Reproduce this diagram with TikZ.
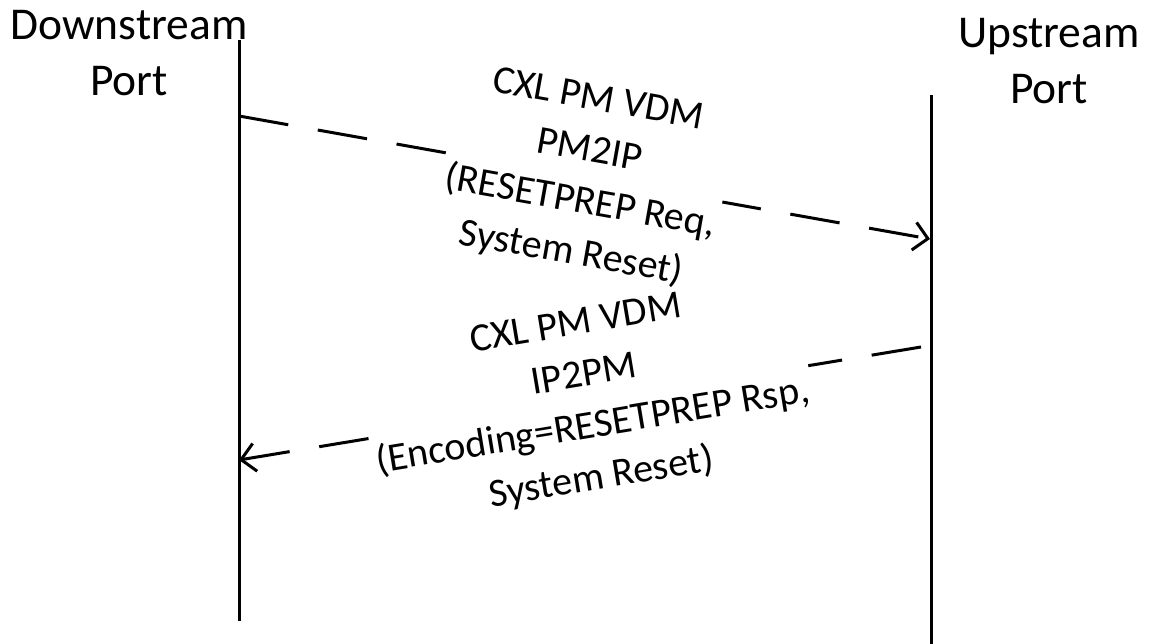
\documentclass[tikz,border=0pt]{standalone}
\usepackage{fontspec}
\setmainfont{Carlito}
\usetikzlibrary{arrows.meta}
\begin{document}
\begin{tikzpicture}[x=1pt,y=-1pt,
  life/.style={line width=3pt},
  msg/.style={line width=3pt, dash pattern=on 50pt off 30pt,
    -{Straight Barb[length=14pt,width=28pt,line width=3pt]}},
  ttl/.style={font=\fontsize{45.5}{56}\selectfont, align=center, inner sep=0pt},
  lbl/.style={font=\fontsize{40}{49}\selectfont, align=center, fill=white, sloped, inner sep=3pt}]
\useasboundingbox (0,0) rectangle (1149,644);
\node[ttl] (dsp) at (129,53) {Downstream\\Port};
\node[ttl] (usp) at (1049,61) {Upstream\\Port};
\coordinate (dtop) at (239,40);
\coordinate (dbot) at (239,621);
\coordinate (utop) at (931,95);
\coordinate (ubot) at (931,644);
\draw[life] (dtop) -- (dbot);
\draw[life] (utop) -- (ubot);
\coordinate (m1s) at (239,116);
\coordinate (m1e) at (930,239);
\coordinate (m2s) at (921,347);
\coordinate (m2e) at (239,460);
\draw[msg] (m1s) -- node[lbl] (l1) {CXL PM VDM\\[3pt]PM2IP\\[3pt](RESETPREP Req,\\[3pt]System Reset)} (m1e);
\draw[msg] (m2s) -- node[lbl,pos=0.487] (l2) {CXL PM VDM\\[3pt]IP2PM\\[3pt](Encoding=RESETPREP Rsp,\\[3pt]System Reset)} (m2e);
\end{tikzpicture}
\end{document}
